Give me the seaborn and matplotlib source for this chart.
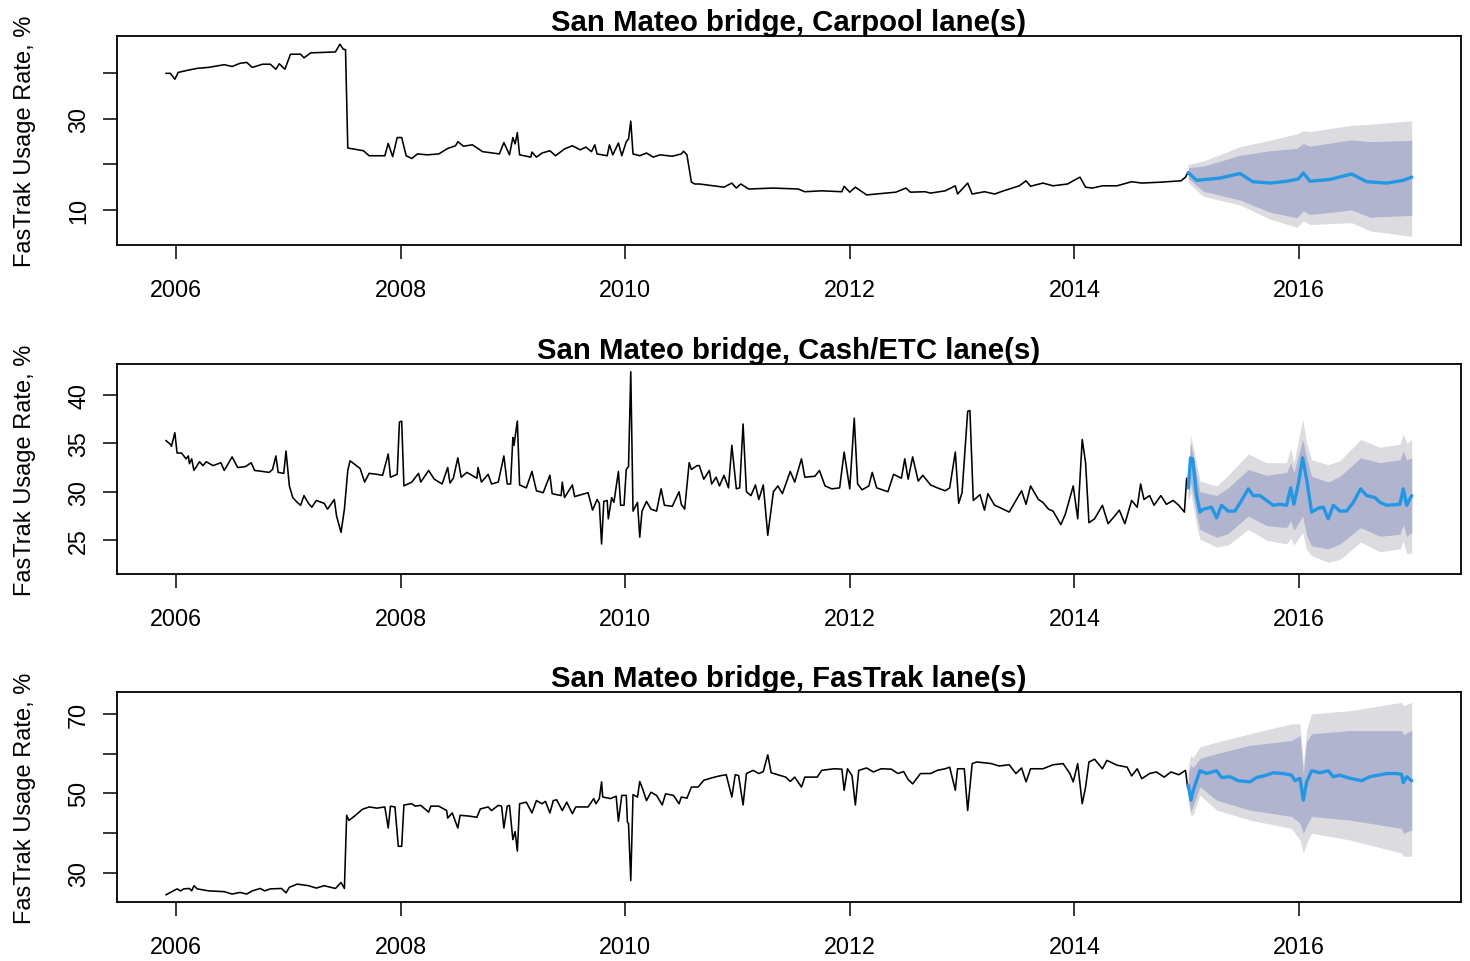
import numpy as np
import matplotlib
matplotlib.use("Agg")
import matplotlib.pyplot as plt
import seaborn as sns

# ---- Carpool lane(s): weekly history + forecast ----
carpool_t = [2005.91, 2005.95, 2005.99, 2006.02, 2006.09, 2006.19, 2006.29, 2006.43, 2006.50, 2006.57,
             2006.63, 2006.68, 2006.77, 2006.84, 2006.89, 2006.92, 2006.97, 2007.02, 2007.11, 2007.14,
             2007.20, 2007.32, 2007.42, 2007.46, 2007.49, 2007.51, 2007.53, 2007.62, 2007.67, 2007.72,
             2007.86, 2007.89, 2007.93, 2007.97, 2008.01, 2008.05, 2008.10, 2008.15, 2008.24, 2008.34,
             2008.42, 2008.49, 2008.51, 2008.56, 2008.64, 2008.73, 2008.88, 2008.92, 2008.97, 2009.00,
             2009.02, 2009.04, 2009.06, 2009.16, 2009.17, 2009.21, 2009.26, 2009.33, 2009.38, 2009.46,
             2009.53, 2009.60, 2009.65, 2009.70, 2009.73, 2009.75, 2009.84, 2009.86, 2009.89, 2009.94,
             2009.97, 2010.01, 2010.03, 2010.05, 2010.07, 2010.13, 2010.19, 2010.25, 2010.31, 2010.42,
             2010.50, 2010.52, 2010.55, 2010.59, 2010.62, 2010.66, 2010.88, 2010.95, 2010.99, 2011.03,
             2011.10, 2011.32, 2011.54, 2011.60, 2011.75, 2011.93, 2011.95, 2012.00, 2012.05, 2012.15,
             2012.41, 2012.50, 2012.54, 2012.67, 2012.72, 2012.85, 2012.94, 2012.96, 2013.05, 2013.09,
             2013.20, 2013.29, 2013.37, 2013.51, 2013.57, 2013.61, 2013.72, 2013.81, 2013.94, 2013.99,
             2014.05, 2014.10, 2014.16, 2014.25, 2014.38, 2014.51, 2014.60, 2014.77, 2014.95, 2014.99,
             2015.01]
carpool_v = [40.0, 40.0, 38.7, 40.2, 40.6, 41.1, 41.3, 41.9, 41.5, 42.2,
             42.4, 41.3, 42.0, 42.0, 40.9, 42.1, 40.9, 44.2, 44.2, 43.4,
             44.5, 44.6, 44.7, 46.4, 45.3, 45.2, 23.6, 23.2, 23.0, 21.9,
             21.9, 24.6, 21.7, 25.9, 25.9, 21.9, 21.3, 22.3, 22.1, 22.3,
             23.5, 24.1, 25.0, 24.0, 24.3, 22.8, 22.3, 24.8, 22.1, 25.9,
             24.5, 27.0, 22.1, 21.6, 22.7, 21.6, 22.5, 23.0, 21.9, 23.4,
             24.1, 23.2, 23.8, 22.8, 24.3, 22.3, 21.9, 24.3, 22.1, 24.7,
             21.9, 25.0, 25.6, 29.5, 22.3, 21.9, 22.5, 21.6, 22.1, 21.8,
             22.3, 22.9, 22.1, 16.1, 15.7, 15.7, 15.0, 15.9, 14.8, 15.7,
             14.6, 14.8, 14.6, 14.0, 14.2, 14.0, 15.2, 13.9, 15.0, 13.3,
             13.9, 14.8, 13.9, 14.0, 13.7, 14.2, 15.3, 13.5, 15.9, 13.5,
             14.0, 13.5, 14.2, 15.3, 16.4, 15.2, 15.9, 15.3, 15.7, 16.4,
             17.2, 15.0, 14.8, 15.3, 15.3, 16.2, 15.9, 16.1, 16.4, 17.2,
             18.2]
carpool_fc_t = [2015.014, 2015.089, 2015.297, 2015.475, 2015.590, 2015.742, 2015.890, 2015.994,
                2016.039, 2016.098, 2016.276, 2016.469, 2016.603, 2016.781, 2016.929, 2017.004]
carpool_fc = [18.2, 16.5, 17.0, 18.0, 16.2, 15.9, 16.3, 16.8,
              18.1, 16.3, 16.7, 17.9, 16.2, 15.9, 16.5, 17.2]
carpool_band_t = [2015.014, 2015.148, 2015.475, 2015.742, 2015.980, 2016.039, 2016.098, 2016.469,
                  2016.633, 2017.004]
carpool_hi95 = [20.0, 20.7, 23.9, 25.3, 26.7, 27.4, 27.2, 28.6, 28.8, 29.6]
carpool_hi80 = [19.3, 19.6, 22.0, 23.0, 23.5, 24.6, 24.0, 25.4, 25.0, 25.3]
carpool_lo80 = [17.0, 14.1, 12.2, 9.5, 8.3, 9.8, 9.0, 10.0, 8.4, 8.8]
carpool_lo95 = [16.0, 13.0, 11.1, 8.0, 6.2, 7.6, 6.8, 7.2, 5.4, 4.2]

# ---- Cash/ETC lane(s) ----
cash_t = [2005.91, 2005.95, 2005.96, 2005.99, 2006.01, 2006.05, 2006.09, 2006.11, 2006.12, 2006.14,
          2006.16, 2006.21, 2006.24, 2006.27, 2006.33, 2006.40, 2006.43, 2006.50, 2006.55, 2006.62,
          2006.67, 2006.70, 2006.77, 2006.83, 2006.86, 2006.89, 2006.91, 2006.96, 2006.98, 2007.01,
          2007.04, 2007.08, 2007.11, 2007.14, 2007.18, 2007.21, 2007.25, 2007.32, 2007.35, 2007.41,
          2007.43, 2007.47, 2007.50, 2007.53, 2007.55, 2007.64, 2007.68, 2007.72, 2007.79, 2007.84,
          2007.89, 2007.91, 2007.97, 2007.99, 2008.01, 2008.03, 2008.10, 2008.16, 2008.18, 2008.25,
          2008.30, 2008.37, 2008.42, 2008.44, 2008.47, 2008.51, 2008.54, 2008.59, 2008.68, 2008.69,
          2008.72, 2008.78, 2008.81, 2008.87, 2008.92, 2008.95, 2008.98, 2009.00, 2009.01, 2009.04,
          2009.06, 2009.12, 2009.17, 2009.21, 2009.27, 2009.33, 2009.35, 2009.43, 2009.44, 2009.46,
          2009.53, 2009.55, 2009.67, 2009.71, 2009.75, 2009.77, 2009.79, 2009.81, 2009.84, 2009.85,
          2009.88, 2009.90, 2009.94, 2009.96, 2009.99, 2010.01, 2010.03, 2010.05, 2010.07, 2010.11,
          2010.13, 2010.15, 2010.19, 2010.23, 2010.28, 2010.32, 2010.35, 2010.42, 2010.48, 2010.50,
          2010.53, 2010.57, 2010.59, 2010.64, 2010.66, 2010.70, 2010.75, 2010.77, 2010.81, 2010.84,
          2010.88, 2010.92, 2010.95, 2010.99, 2011.02, 2011.05, 2011.08, 2011.12, 2011.16, 2011.19,
          2011.23, 2011.27, 2011.32, 2011.36, 2011.40, 2011.47, 2011.51, 2011.57, 2011.60, 2011.69,
          2011.73, 2011.78, 2011.84, 2011.91, 2011.95, 2012.00, 2012.04, 2012.07, 2012.11, 2012.17,
          2012.20, 2012.24, 2012.34, 2012.39, 2012.46, 2012.49, 2012.52, 2012.56, 2012.61, 2012.65,
          2012.72, 2012.78, 2012.85, 2012.89, 2012.94, 2012.97, 2013.00, 2013.05, 2013.07, 2013.10,
          2013.16, 2013.20, 2013.23, 2013.29, 2013.33, 2013.42, 2013.46, 2013.53, 2013.57, 2013.61,
          2013.68, 2013.72, 2013.77, 2013.81, 2013.88, 2013.92, 2013.99, 2014.03, 2014.07, 2014.10,
          2014.13, 2014.18, 2014.25, 2014.30, 2014.36, 2014.40, 2014.45, 2014.51, 2014.56, 2014.59,
          2014.62, 2014.67, 2014.71, 2014.77, 2014.82, 2014.88, 2014.93, 2014.98, 2015.00]
cash_v = [35.3, 34.9, 34.7, 36.1, 34.0, 34.0, 33.4, 33.7, 32.9, 33.4,
          32.2, 33.1, 32.7, 33.1, 32.7, 33.0, 32.2, 33.6, 32.5, 32.6,
          33.0, 32.2, 32.1, 32.0, 32.3, 33.7, 32.0, 31.9, 34.2, 30.6,
          29.4, 28.9, 28.6, 29.6, 28.8, 28.4, 29.1, 28.8, 28.2, 29.2,
          27.5, 25.8, 28.2, 32.2, 33.2, 32.4, 31.0, 31.9, 31.8, 31.7,
          33.9, 31.5, 31.8, 37.2, 37.3, 30.6, 31.0, 31.9, 31.0, 32.2,
          31.3, 30.8, 32.5, 30.9, 31.4, 33.5, 31.5, 32.0, 31.4, 32.5,
          31.0, 31.8, 30.8, 31.0, 33.7, 30.8, 30.8, 35.6, 34.8, 37.3,
          30.7, 30.4, 32.1, 30.1, 29.9, 31.7, 29.8, 29.6, 31.0, 29.4,
          30.7, 29.5, 29.9, 28.1, 29.2, 28.8, 24.6, 29.0, 29.1, 27.2,
          29.4, 28.9, 32.1, 28.6, 28.6, 32.3, 32.6, 42.4, 28.0, 28.9,
          25.3, 28.0, 29.0, 28.2, 28.0, 30.3, 28.6, 28.5, 30.0, 28.7,
          28.2, 33.0, 32.3, 32.7, 32.7, 31.3, 32.2, 30.8, 31.5, 30.6,
          31.7, 30.4, 34.8, 30.3, 30.4, 37.0, 30.0, 29.6, 30.7, 29.2,
          30.7, 25.5, 30.0, 30.6, 29.8, 32.1, 31.0, 33.4, 31.5, 31.6,
          32.2, 30.6, 30.3, 30.4, 34.1, 30.3, 37.6, 30.8, 30.2, 30.6,
          32.0, 30.4, 30.0, 31.8, 31.4, 33.4, 31.3, 33.6, 31.1, 31.7,
          30.7, 30.4, 30.1, 30.4, 34.1, 28.8, 29.9, 38.3, 38.4, 29.1,
          29.7, 28.1, 29.8, 28.6, 28.4, 27.9, 28.7, 30.1, 28.7, 30.6,
          29.2, 28.9, 28.2, 28.0, 26.6, 27.7, 30.6, 27.2, 35.4, 33.0,
          26.8, 27.2, 28.6, 26.7, 27.5, 28.1, 26.7, 29.1, 28.4, 30.8,
          29.2, 29.6, 28.6, 29.6, 28.7, 29.1, 28.6, 27.9, 31.4]
cash_fc_t = [2015.014, 2015.035, 2015.053, 2015.089, 2015.118, 2015.148, 2015.222, 2015.267, 2015.311,
             2015.370, 2015.430, 2015.489, 2015.549, 2015.593, 2015.653, 2015.712, 2015.771, 2015.831,
             2015.890, 2015.926, 2015.955, 2015.994, 2016.033, 2016.068, 2016.113, 2016.172, 2016.217,
             2016.261, 2016.306, 2016.365, 2016.424, 2016.484, 2016.549, 2016.603, 2016.677, 2016.721,
             2016.781, 2016.899, 2016.929, 2016.959, 2017.004]
cash_fc = [30.4, 33.5, 33.4, 29.6, 27.9, 28.2, 28.4, 27.3, 28.6,
           28.0, 28.0, 29.1, 30.3, 29.6, 29.6, 29.1, 28.6, 28.7,
           28.6, 30.4, 28.7, 30.8, 33.5, 31.3, 27.9, 28.3, 28.4,
           27.2, 28.6, 28.0, 28.0, 28.9, 30.3, 29.6, 29.4, 28.9,
           28.6, 28.7, 30.3, 28.6, 29.6]
cash_band_t = [2015.014, 2015.035, 2015.089, 2015.118, 2015.267, 2015.370, 2015.549, 2015.712, 2015.890,
               2015.926, 2015.955, 2016.033, 2016.068, 2016.113, 2016.261, 2016.365, 2016.549, 2016.721,
               2016.899, 2016.929, 2016.959, 2017.004]
cash_hi95 = [32.0, 35.9, 32.9, 31.1, 30.6, 31.7, 33.9, 33.0, 33.0, 34.5, 33.0, 37.5, 35.0, 33.3, 32.8,
             33.2, 35.4, 34.6, 34.9, 36.0, 35.0, 35.4]
cash_hi80 = [31.5, 35.1, 31.8, 30.0, 29.6, 30.4, 32.3, 31.7, 32.0, 33.0, 32.0, 35.4, 33.5, 31.6, 31.0,
             31.6, 33.5, 33.0, 33.3, 34.2, 33.3, 33.5]
cash_lo80 = [29.3, 31.0, 27.6, 26.1, 25.3, 25.7, 27.5, 26.5, 26.3, 27.0, 26.0, 27.5, 25.5, 24.4, 24.1,
             24.6, 26.3, 25.4, 25.6, 26.6, 25.4, 25.8]
cash_lo95 = [28.8, 30.0, 26.5, 25.1, 24.3, 24.5, 26.1, 25.0, 24.6, 25.2, 24.5, 25.8, 24.0, 23.4, 22.7,
             23.0, 24.8, 23.8, 24.1, 24.9, 23.6, 23.7]

# ---- FasTrak lane(s) ----
fastrak_t = [2005.91, 2005.95, 2006.01, 2006.04, 2006.07, 2006.12, 2006.14, 2006.16, 2006.19, 2006.29,
             2006.43, 2006.50, 2006.57, 2006.63, 2006.68, 2006.75, 2006.79, 2006.84, 2006.94, 2006.98,
             2007.01, 2007.08, 2007.18, 2007.25, 2007.32, 2007.42, 2007.47, 2007.50, 2007.52, 2007.54,
             2007.59, 2007.66, 2007.72, 2007.79, 2007.86, 2007.89, 2007.91, 2007.95, 2007.98, 2008.01,
             2008.03, 2008.10, 2008.13, 2008.18, 2008.25, 2008.27, 2008.34, 2008.41, 2008.42, 2008.46,
             2008.51, 2008.53, 2008.61, 2008.68, 2008.71, 2008.78, 2008.81, 2008.87, 2008.90, 2008.92,
             2008.95, 2008.97, 2009.00, 2009.02, 2009.04, 2009.06, 2009.12, 2009.17, 2009.21, 2009.26,
             2009.29, 2009.33, 2009.36, 2009.39, 2009.44, 2009.48, 2009.53, 2009.56, 2009.67, 2009.72,
             2009.74, 2009.77, 2009.79, 2009.80, 2009.87, 2009.92, 2009.94, 2009.97, 2010.01, 2010.02,
             2010.03, 2010.05, 2010.07, 2010.11, 2010.13, 2010.16, 2010.19, 2010.23, 2010.28, 2010.33,
             2010.36, 2010.43, 2010.48, 2010.50, 2010.55, 2010.59, 2010.65, 2010.70, 2010.77, 2010.84,
             2010.90, 2010.95, 2010.98, 2011.01, 2011.05, 2011.08, 2011.14, 2011.19, 2011.23, 2011.27,
             2011.30, 2011.36, 2011.43, 2011.47, 2011.51, 2011.57, 2011.60, 2011.71, 2011.75, 2011.86,
             2011.93, 2011.95, 2011.98, 2012.02, 2012.05, 2012.08, 2012.15, 2012.21, 2012.28, 2012.37,
             2012.43, 2012.48, 2012.52, 2012.56, 2012.63, 2012.72, 2012.78, 2012.85, 2012.89, 2012.94,
             2012.96, 2013.02, 2013.05, 2013.09, 2013.13, 2013.20, 2013.26, 2013.33, 2013.42, 2013.48,
             2013.53, 2013.57, 2013.61, 2013.72, 2013.81, 2013.90, 2013.96, 2013.99, 2014.03, 2014.07,
             2014.10, 2014.13, 2014.18, 2014.25, 2014.29, 2014.38, 2014.47, 2014.51, 2014.56, 2014.60,
             2014.67, 2014.73, 2014.80, 2014.86, 2014.93, 2014.99, 2015.01]
fastrak_v = [24.5, 25.1, 26.0, 25.5, 26.0, 26.1, 25.5, 26.8, 26.0, 25.5,
             25.3, 24.7, 25.1, 24.7, 25.5, 26.1, 25.5, 26.0, 26.1, 25.0,
             26.4, 27.2, 26.8, 26.2, 26.8, 26.1, 27.6, 26.1, 44.5, 43.2,
             44.3, 46.0, 46.6, 46.3, 46.6, 41.3, 46.8, 46.6, 36.7, 36.7,
             47.1, 47.4, 46.8, 47.0, 45.3, 46.8, 46.8, 45.7, 43.8, 45.1,
             41.3, 44.5, 44.3, 44.0, 46.1, 46.6, 45.7, 47.0, 46.8, 41.3,
             46.8, 47.0, 38.4, 40.4, 35.5, 47.4, 47.8, 45.1, 48.2, 47.4,
             48.0, 45.1, 48.2, 48.4, 45.7, 47.8, 44.9, 46.6, 46.6, 48.7,
             47.4, 48.7, 52.9, 49.1, 48.7, 49.3, 43.0, 49.5, 49.5, 42.8,
             42.4, 28.1, 49.7, 49.1, 53.0, 50.8, 48.2, 50.3, 49.5, 47.1,
             49.9, 49.5, 47.4, 49.1, 48.8, 51.6, 51.6, 53.3, 53.9, 54.4,
             54.7, 49.1, 54.7, 54.5, 47.1, 55.0, 55.8, 55.0, 55.5, 59.7,
             55.2, 54.7, 54.1, 53.0, 54.1, 51.6, 54.1, 54.1, 55.8, 56.2,
             56.1, 50.8, 56.2, 54.5, 47.1, 55.8, 56.4, 55.4, 56.2, 56.1,
             55.0, 55.5, 53.5, 52.4, 55.0, 55.0, 55.8, 56.2, 56.6, 50.8,
             56.2, 56.2, 45.7, 57.5, 57.9, 57.7, 57.5, 56.9, 57.2, 55.0,
             56.4, 52.9, 56.2, 56.2, 57.2, 57.5, 55.0, 52.9, 57.5, 47.4,
             51.6, 57.9, 58.6, 56.2, 58.3, 57.1, 56.6, 54.4, 56.2, 53.7,
             55.0, 55.4, 54.1, 55.4, 54.7, 55.8, 51.2]
fastrak_fc_t = [2015.014, 2015.038, 2015.059, 2015.118, 2015.178, 2015.267, 2015.311, 2015.386, 2015.460,
                2015.564, 2015.623, 2015.712, 2015.771, 2015.860, 2015.935, 2015.964, 2016.009, 2016.039,
                2016.068, 2016.113, 2016.187, 2016.261, 2016.306, 2016.365, 2016.454, 2016.558, 2016.632,
                2016.706, 2016.781, 2016.870, 2016.914, 2016.929, 2016.959, 2017.004]
fastrak_fc = [52.1, 48.3, 50.8, 55.7, 55.0, 55.7, 54.0, 54.2, 53.2,
              52.9, 54.0, 54.6, 55.2, 55.0, 54.6, 53.2, 53.8, 48.3,
              52.9, 55.7, 55.2, 55.7, 54.2, 54.6, 53.8, 53.2, 54.2,
              54.6, 55.0, 55.0, 54.8, 52.7, 54.2, 53.2]
fastrak_band_t = [2015.014, 2015.038, 2015.059, 2015.118, 2015.267, 2015.564, 2015.935, 2016.009, 2016.039,
                  2016.068, 2016.113, 2016.454, 2016.914, 2016.929, 2017.004]
fastrak_hi95 = [57.0, 59.6, 59.0, 61.7, 62.9, 65.0, 67.5, 67.5, 57.5, 66.0, 70.0, 70.8, 72.9, 72.0, 72.9]
fastrak_hi80 = [55.0, 57.1, 56.5, 58.8, 60.0, 62.1, 63.3, 64.6, 55.0, 63.0, 65.0, 65.8, 65.8, 64.8, 65.8]
fastrak_lo80 = [49.5, 45.5, 47.0, 51.7, 48.3, 45.8, 44.2, 42.5, 40.0, 42.0, 44.2, 43.3, 41.2, 40.0, 40.8]
fastrak_lo95 = [47.5, 44.2, 44.8, 49.6, 45.8, 43.3, 41.2, 38.3, 35.0, 37.5, 40.0, 38.3, 35.0, 34.2, 34.2]

titles = ["San Mateo bridge, Carpool lane(s)",
          "San Mateo bridge, Cash/ETC lane(s)",
          "San Mateo bridge, FasTrak lane(s)"]
year_ticks = [2006, 2008, 2010, 2012, 2014, 2016]
ytick_sets = [[10, 20, 30, 40], [25, 30, 35, 40], [30, 40, 50, 60, 70]]
ytick_labels = [["10", "", "30", ""], ["25", "30", "35", "40"], ["30", "", "50", "", "70"]]
ylims = [(2.3, 48.2), (21.5, 43.2), (22.7, 75.5)]

sns.set_style("ticks")
plt.rcParams['font.family'] = ['Liberation Sans', 'DejaVu Sans']
plt.rcParams['text.color'] = 'black'
plt.rcParams['axes.labelcolor'] = 'black'
plt.rcParams['xtick.color'] = 'black'
plt.rcParams['ytick.color'] = 'black'

shade80 = "#B0B4CE"
shade95 = "#DBDBE0"
fc_blue = "#2297E6"

fig = plt.figure(figsize=(14.7, 9.62), dpi=100)
# axes boxes measured in pixels: left 117, right 1461, tops 37 / 365 / 693
boxes = [(117, 37, 246), (117, 365, 575), (117, 693, 903)]
W, H = 1470.0, 962.0

series = [
    (carpool_t, carpool_v, carpool_fc_t, carpool_fc, carpool_band_t,
     carpool_lo95, carpool_hi95, carpool_lo80, carpool_hi80),
    (cash_t, cash_v, cash_fc_t, cash_fc, cash_band_t,
     cash_lo95, cash_hi95, cash_lo80, cash_hi80),
    (fastrak_t, fastrak_v, fastrak_fc_t, fastrak_fc, fastrak_band_t,
     fastrak_lo95, fastrak_hi95, fastrak_lo80, fastrak_hi80),
]

for i, (ht, hv, ft, fv, bt, lo95, hi95, lo80, hi80) in enumerate(series):
    left, top, bottom = boxes[i]
    ax = fig.add_axes([left / W, 1 - bottom / H, (1461 - left) / W, (bottom - top) / H])

    ax.fill_between(bt, lo95, hi95, color=shade95, lw=0)
    ax.fill_between(bt, lo80, hi80, color=shade80, lw=0)
    sns.lineplot(x=ht, y=hv, ax=ax, color="black", linewidth=1.15,
                 estimator=None, sort=False)
    sns.lineplot(x=ft, y=fv, ax=ax, color=fc_blue, linewidth=2.4,
                 estimator=None, sort=False)

    ax.set_xlim(2005.475, 2017.443)
    ax.set_ylim(*ylims[i])
    ax.set_xticks(year_ticks)
    ax.set_xticklabels([str(y) for y in year_ticks])
    ax.set_yticks(ytick_sets[i])
    ax.set_yticklabels(ytick_labels[i], rotation=90, va="center")
    ax.tick_params(axis="both", direction="out", length=10.4, width=1.1,
                   labelsize=16.8, color="black", labelcolor="black")
    ax.tick_params(axis="x", pad=13.5)
    ax.tick_params(axis="y", pad=9)
    for sp in ax.spines.values():
        sp.set_linewidth(1.3)
        sp.set_color("black")
        sp.set_visible(True)

    ax.set_xlabel("")
    ax.set_ylabel("FasTrak Usage Rate, %", fontsize=17, color="black")
    ax.yaxis.set_label_coords(-0.060, 0.5)
    ax.set_title(titles[i], fontsize=21.2, fontweight="bold", pad=3.5, color="black")

fig.savefig("out.png", dpi=100)
